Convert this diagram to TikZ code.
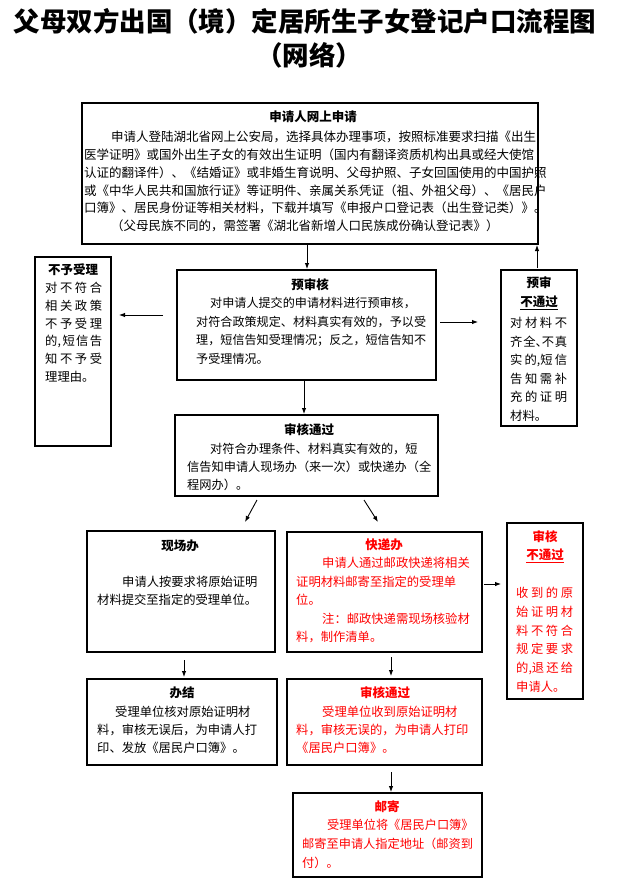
\documentclass[tikz,border=0pt]{standalone}
\usepackage{fontspec}
\setmainfont{Noto Sans CJK SC}
\usetikzlibrary{arrows.meta,calc}
\newcommand{\sprline}[1]{\makebox[57pt][s]{\spaceskip=0pt plus 1fil\relax #1}}
\newcommand{\hwp}[1]{\makebox[0.5em][l]{#1}}
\begin{document}
\begin{tikzpicture}[x=1pt,y=-1pt,
  box/.style={draw, line width=1.2pt, inner sep=0pt, outer sep=0pt},
  txt/.style={inner sep=0pt, anchor=north west, align=left},
  ttl/.style={inner sep=0pt, font=\fontsize{12.5}{18.5}\selectfont\bfseries},
  arr/.style={line width=0.9pt, -{Latex[length=6pt,width=4.5pt]}},
  fs/.style={font=\fontsize{12.3}{#1}\selectfont}]

\useasboundingbox (0,0) rectangle (618,884);
\fill[white] (0,0) rectangle (618,884);

% title
\node[inner sep=0pt, font=\fontsize{26.5}{30}\selectfont\bfseries] (title1) at (305,21) {父母双方出国（境）定居所生子女登记户口流程图};
\node[inner sep=0pt, font=\fontsize{26.5}{30}\selectfont\bfseries] (title2) at (309,55) {（网络）};

% boxes
\node[box, minimum width=456pt, minimum height=141pt] (apply) at (310,173.5) {};
\node[box, minimum width=259pt, minimum height=110pt] (pre) at (306.5,325) {};
\node[box, minimum width=76pt, minimum height=189pt] (reject) at (73,351.5) {};
\node[box, minimum width=76pt, minimum height=156pt] (fail1) at (539,348) {};
\node[box, minimum width=263pt, minimum height=81pt] (pass1) at (306.5,455.5) {};
\node[box, minimum width=188pt, minimum height=121pt] (onsite) at (181,591.5) {};
\node[box, minimum width=195pt, minimum height=120pt] (express) at (384.5,592) {};
\node[box, minimum width=76pt, minimum height=176pt] (fail2) at (545,611) {};
\node[box, minimum width=190pt, minimum height=86pt] (done) at (182,722) {};
\node[box, minimum width=195pt, minimum height=86pt] (pass2) at (384.5,722) {};
\node[box, minimum width=189pt, minimum height=84pt] (mail) at (387.5,835) {};

% headings
\node[ttl] (applyH) at (313,117) {申请人网上申请};
\node[ttl] (preH) at (310,285) {预审核};
\node[ttl] (pass1H) at (309,430) {审核通过};
\node[ttl] (rejectH) at (73,270) {不予受理};
\node[ttl, align=center] (fail1H) at (539,293) {预审\\\underline{不通过}};
\node[ttl, align=center, text=red] (fail2H) at (545,546.5) {审核\\\underline{不通过}};
\node[ttl] (onsiteH) at (180,546) {现场办};
\node[ttl, text=red] (expressH) at (384,545) {快递办};
\node[ttl] (doneH) at (182,693) {办结};
\node[ttl, text=red] (pass2H) at (385,693) {审核通过};
\node[ttl, text=red] (mailH) at (387,807) {邮寄};

% body texts
\node[txt, font=\fontsize{12.5}{17.8}\selectfont] (applyT) at (84,131) {\hspace*{27pt}申请人登陆湖北省网上公安局，选择具体办理事项，按照标准要求扫描《出生\\
医学证明》或国外出生子女的有效出生证明（国内有翻译资质机构出具或经大使馆\\
认证的翻译件）、《结婚证》或非婚生育说明、父母护照、子女回国使用的中国护照\\
或《中华人民共和国旅行证》等证明件、亲属关系凭证（祖、外祖父母）、《居民户\\
口簿》、居民身份证等相关材料，下载并填写《申报户口登记表（出生登记类）》。\\
\hspace*{27pt}（父母民族不同的，需签署《湖北省新增人口民族成份确认登记表》）};

\node[txt, font=\fontsize{12.1}{18.7}\selectfont] (preT) at (196,297) {\hspace*{14pt}对申请人提交的申请材料进行预审核，\\
对符合政策规定、材料真实有效的，予以受\\
理，短信告知受理情况；反之，短信告知不\\
予受理情况。};

\node[txt, font=\fontsize{12.2}{18}\selectfont] (pass1T) at (187,443) {\hspace*{23pt}对符合办理条件、材料真实有效的，短\\
信告知申请人现场办（来一次）或快递办（全\\
程网办）。};

\node[txt, fs=17.8] (rejectT) at (45,282) {\sprline{对 不 符 合}\\
\sprline{相 关 政 策}\\
\sprline{不 予 受 理}\\
\sprline{的, 短 信 告}\\
\sprline{知 不 予 受}\\
理理由。};

\node[txt, fs=18.6] (fail1T) at (510,317) {\sprline{对 材 料 不}\\
\sprline{齐 全\hwp{、}不 真}\\
\sprline{实 的,短 信}\\
\sprline{告 知 需 补}\\
\sprline{充 的 证 明}\\
材料。};

\node[txt, fs=18.8, text=red] (fail2T) at (516,587) {\sprline{收 到 的 原}\\
\sprline{始 证 明 材}\\
\sprline{料 不 符 合}\\
\sprline{规 定 要 求}\\
\sprline{的,退 还 给}\\
申请人。};

\node[txt, fs=18] (onsiteT) at (97,576) {\hspace*{25pt}申请人按要求将原始证明\\
材料提交至指定的受理单位。};

\node[txt, fs=18.5, text=red] (expressT) at (296,557) {\hspace*{26pt}申请人通过邮政快递将相关\\
证明材料邮寄至指定的受理单\\
位。\\
\hspace*{26pt}注：邮政快递需现场核验材\\
料，制作清单。};

\node[txt, fs=18] (doneT) at (97,706) {\hspace*{18pt}受理单位核对原始证明材\\
料，审核无误后，为申请人打\\
印、发放《居民户口簿》。};

\node[txt, fs=18, text=red] (pass2T) at (296,706) {\hspace*{26pt}受理单位收到原始证明材\\
料，审核无误的，为申请人打印\\
《居民户口簿》。};

\node[txt, font=\fontsize{12.2}{19}\selectfont, text=red] (mailT) at (302,819) {\hspace*{25pt}受理单位将《居民户口簿》\\
邮寄至申请人指定地址（邮资到\\
付）。};

% connectors
\coordinate (a1e) at ([xshift=0.5pt]pre.north);
\draw[arr, shorten >=1pt] (a1e |- apply.south) -- (a1e);
\coordinate (a2s) at ([yshift=10pt]pre.west);
\draw[arr, shorten <=14pt, shorten >=8pt] (a2s) -- (a2s -| reject.east);
\coordinate (a3s) at ([yshift=3pt]pre.east);
\draw[arr, shorten <=4pt, shorten >=23pt] (a3s) -- (a3s -| fail1.west);
\coordinate (a4s) at ([xshift=-2pt]fail1.north);
\draw[arr, shorten <=2pt, shorten >=1pt] (a4s) -- (a4s |- apply.south);
\coordinate (a5e) at ([xshift=-2.5pt]pass1.north);
\draw[arr, shorten >=1pt] (a5e |- pre.south) -- (a5e);
\coordinate (a6s) at ([xshift=-49.5pt,yshift=-4pt]pass1.south);
\coordinate (a6e) at ([xshift=64pt,yshift=9pt]onsite.north);
\draw[arr] (a6s) -- (a6e);
\coordinate (a7s) at ([xshift=57.5pt,yshift=-4pt]pass1.south);
\coordinate (a7e) at ([xshift=-6.5pt,yshift=10pt]express.north);
\draw[arr] (a7s) -- (a7e);
\coordinate (a8s) at ([yshift=8pt]express.east);
\draw[arr, shorten <=2pt, shorten >=6pt] (a8s) -- (a8s -| fail2.west);
\coordinate (a9s) at ([xshift=3pt]onsite.south);
\draw[arr, shorten <=8pt, shorten >=2pt] (a9s) -- (a9s |- done.north);
\coordinate (a10s) at ([xshift=6.5pt]express.south);
\draw[arr, shorten <=5pt, shorten >=3pt] (a10s) -- (a10s |- pass2.north);
\coordinate (a11s) at ([xshift=6.5pt]pass2.south);
\draw[arr, shorten <=7pt, shorten >=1pt] (a11s) -- (a11s |- mail.north);
\end{tikzpicture}
\end{document}
